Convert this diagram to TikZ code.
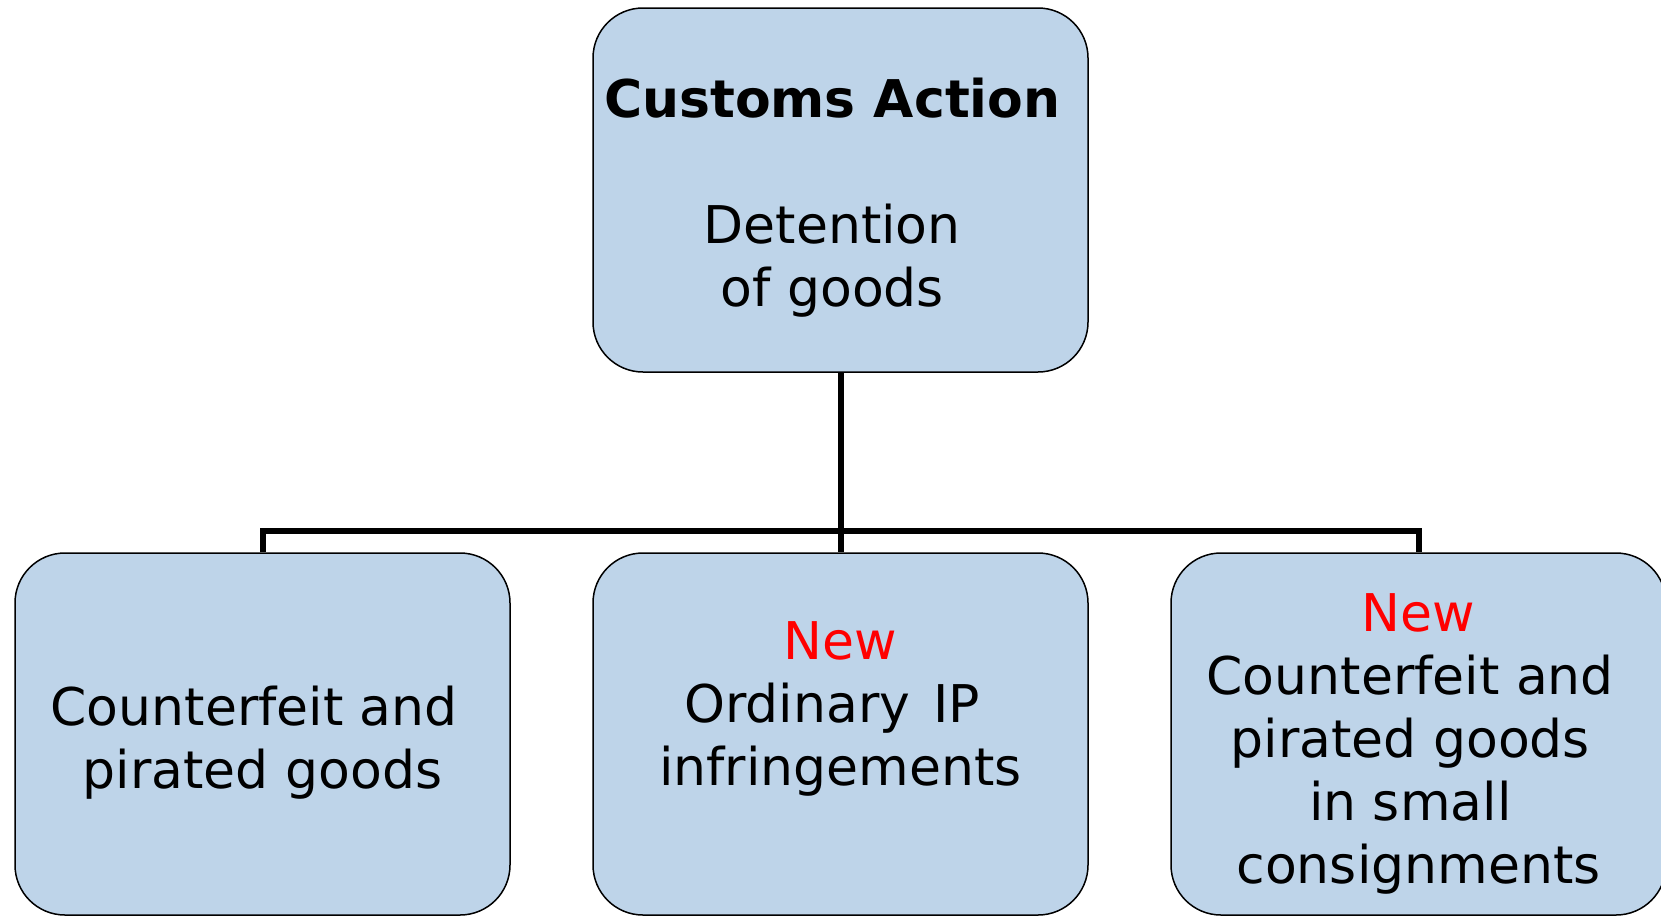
\documentclass[tikz,border=0pt]{standalone}
\usepackage{fontspec}
\setmainfont{DejaVu Sans}
\definecolor{boxblue}{RGB}{190,212,233}
\definecolor{newred}{RGB}{255,0,0}
% a trailing space that is kept at the end of a centred line
\newcommand\tsp{\hbox to .318em{}}
\begin{document}
\begin{tikzpicture}[x=1pt,y=-1pt,
  box/.style={draw=black, line width=1.5pt, fill=boxblue,
    rounded corners=50pt, minimum width=495pt, inner sep=0pt},
  boxtext/.style={anchor=base, align=center, inner sep=0pt,
    font=\fontsize{52}{63}\selectfont},
  conn/.style={draw=black, line width=6pt}]
\useasboundingbox (0,0) rectangle (1661,916);

% boxes
\node[box, minimum height=364pt] (top)   at (840.5,190) {};
\node[box, minimum height=362pt] (left)  at (262.5,734) {};
\node[box, minimum height=362pt] (mid)   at (840.5,734) {};
\node[box, minimum height=362pt] (right) at (1418.5,734) {};

% tree connectors
\draw[conn] (top.south) -- (mid.north);
\coordinate (bus) at (840.5,531);
\draw[conn] (left.north) |- (bus);
\draw[conn] (right.north) |- (bus);

% box texts, each placed by the baseline of its last line
\node[boxtext] (topText) at (840.5,306)
  {\textbf{Customs Action}\tsp\\[63pt]Detention\tsp\\of goods\tsp};
\node[boxtext] (leftText) at (262.5,788)
  {Counterfeit and\tsp\\pirated goods};
\node[boxtext] (midText) at (840.5,785)
  {\textcolor{newred}{New}\\Ordinary\hspace{.45em}IP\tsp\\infringements};
\node[boxtext] (rightText) at (1418.5,883)
  {\textcolor{newred}{New}\\Counterfeit and\tsp\\pirated goods\tsp\\in small\tsp\\consignments};
\end{tikzpicture}
\end{document}
